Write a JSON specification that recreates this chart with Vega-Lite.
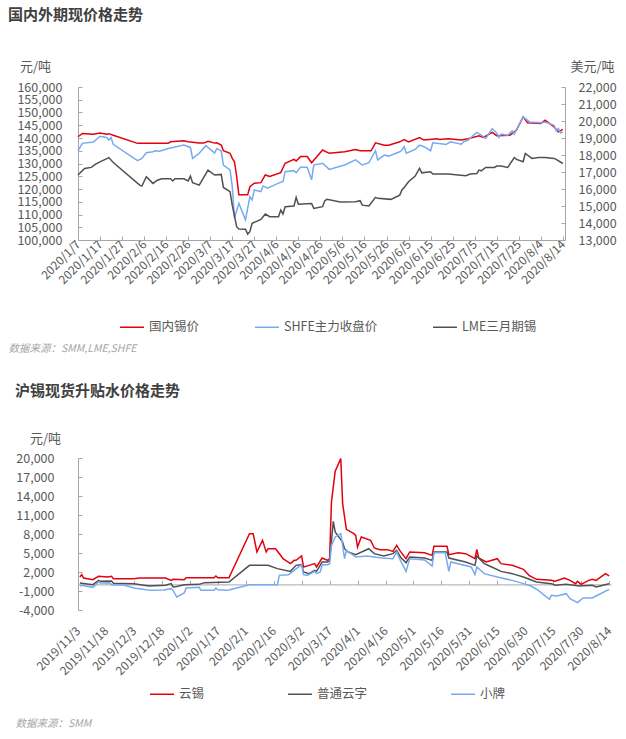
{
"$schema":"https://vega.github.io/schema/vega-lite/v6.json",
"padding":{"left":8,"top":8,"right":0,"bottom":0},
"background":"white",
"config":{
 "view":{"stroke":null},
 "font":"Noto Sans CJK SC",
 "axis":{"labelFont":"Noto Sans CJK SC","labelFontSize":12,"labelColor":"#595959","domainColor":"#a6a6a6","tickColor":"#a6a6a6","grid":false,"labelOverlap":false,"titleFont":"Noto Sans CJK SC","titleFontWeight":"normal","titleColor":"#595959","titleFontSize":13},
 "legend":{"labelFont":"Noto Sans CJK SC","labelFontSize":12.5,"labelColor":"#595959"},
 "title":{"font":"Noto Sans CJK SC","fontSize":15,"fontWeight":"bold","color":"#404040"}
},
"datasets":{
"top":[
{"d":"2020-01-07","s":"国内锡价","v":140500},{"d":"2020-01-09","s":"国内锡价","v":141800},{"d":"2020-01-14","s":"国内锡价","v":141500},{"d":"2020-01-17","s":"国内锡价","v":142000},{"d":"2020-01-20","s":"国内锡价","v":141500},{"d":"2020-01-21","s":"国内锡价","v":141700},{"d":"2020-01-23","s":"国内锡价","v":141100},{"d":"2020-02-03","s":"国内锡价","v":137900},{"d":"2020-02-17","s":"国内锡价","v":137900},{"d":"2020-02-18","s":"国内锡价","v":138500},{"d":"2020-02-24","s":"国内锡价","v":138900},{"d":"2020-02-26","s":"国内锡价","v":138500},{"d":"2020-03-02","s":"国内锡价","v":138000},{"d":"2020-03-04","s":"国内锡价","v":138000},{"d":"2020-03-06","s":"国内锡价","v":138700},{"d":"2020-03-09","s":"国内锡价","v":138000},{"d":"2020-03-10","s":"国内锡价","v":138100},{"d":"2020-03-12","s":"国内锡价","v":137200},{"d":"2020-03-13","s":"国内锡价","v":135000},{"d":"2020-03-16","s":"国内锡价","v":134000},{"d":"2020-03-17","s":"国内锡价","v":132000},{"d":"2020-03-18","s":"国内锡价","v":130700},{"d":"2020-03-19","s":"国内锡价","v":124900},{"d":"2020-03-20","s":"国内锡价","v":117700},{"d":"2020-03-24","s":"国内锡价","v":117700},{"d":"2020-03-25","s":"国内锡价","v":120900},{"d":"2020-03-27","s":"国内锡价","v":122300},{"d":"2020-03-30","s":"国内锡价","v":122500},{"d":"2020-04-01","s":"国内锡价","v":125500},{"d":"2020-04-03","s":"国内锡价","v":124900},{"d":"2020-04-08","s":"国内锡价","v":126400},{"d":"2020-04-10","s":"国内锡价","v":130100},{"d":"2020-04-14","s":"国内锡价","v":131600},{"d":"2020-04-15","s":"国内锡价","v":131000},{"d":"2020-04-17","s":"国内锡价","v":132700},{"d":"2020-04-20","s":"国内锡价","v":132700},{"d":"2020-04-22","s":"国内锡价","v":130300},{"d":"2020-04-27","s":"国内锡价","v":135300},{"d":"2020-04-30","s":"国内锡价","v":134000},{"d":"2020-05-07","s":"国内锡价","v":134600},{"d":"2020-05-12","s":"国内锡价","v":135500},{"d":"2020-05-14","s":"国内锡价","v":135000},{"d":"2020-05-19","s":"国内锡价","v":135000},{"d":"2020-05-21","s":"国内锡价","v":138100},{"d":"2020-05-25","s":"国内锡价","v":137200},{"d":"2020-05-27","s":"国内锡价","v":137200},{"d":"2020-06-01","s":"国内锡价","v":138500},{"d":"2020-06-03","s":"国内锡价","v":139400},{"d":"2020-06-05","s":"国内锡价","v":138500},{"d":"2020-06-10","s":"国内锡价","v":140200},{"d":"2020-06-12","s":"国内锡价","v":139200},{"d":"2020-06-18","s":"国内锡价","v":139700},{"d":"2020-06-19","s":"国内锡价","v":139400},{"d":"2020-06-23","s":"国内锡价","v":139700},{"d":"2020-06-29","s":"国内锡价","v":139200},{"d":"2020-07-02","s":"国内锡价","v":139700},{"d":"2020-07-07","s":"国内锡价","v":140900},{"d":"2020-07-09","s":"国内锡价","v":140200},{"d":"2020-07-13","s":"国内锡价","v":142200},{"d":"2020-07-15","s":"国内锡价","v":140900},{"d":"2020-07-21","s":"国内锡价","v":141100},{"d":"2020-07-24","s":"国内锡价","v":143100},{"d":"2020-07-27","s":"国内锡价","v":148300},{"d":"2020-07-29","s":"国内锡价","v":146000},{"d":"2020-08-04","s":"国内锡价","v":145700},{"d":"2020-08-06","s":"国内锡价","v":147000},{"d":"2020-08-10","s":"国内锡价","v":144400},{"d":"2020-08-12","s":"国内锡价","v":142400},{"d":"2020-08-14","s":"国内锡价","v":143400},
{"d":"2020-01-07","s":"SHFE主力收盘价","v":135000},{"d":"2020-01-09","s":"SHFE主力收盘价","v":137900},{"d":"2020-01-14","s":"SHFE主力收盘价","v":138400},{"d":"2020-01-17","s":"SHFE主力收盘价","v":140700},{"d":"2020-01-20","s":"SHFE主力收盘价","v":140200},{"d":"2020-01-21","s":"SHFE主力收盘价","v":139200},{"d":"2020-01-22","s":"SHFE主力收盘价","v":140200},{"d":"2020-01-23","s":"SHFE主力收盘价","v":137500},{"d":"2020-02-03","s":"SHFE主力收盘价","v":131100},{"d":"2020-02-05","s":"SHFE主力收盘价","v":132000},{"d":"2020-02-07","s":"SHFE主力收盘价","v":134200},{"d":"2020-02-10","s":"SHFE主力收盘价","v":134600},{"d":"2020-02-11","s":"SHFE主力收盘价","v":135000},{"d":"2020-02-13","s":"SHFE主力收盘价","v":134800},{"d":"2020-02-17","s":"SHFE主力收盘价","v":135900},{"d":"2020-02-24","s":"SHFE主力收盘价","v":137200},{"d":"2020-02-27","s":"SHFE主力收盘价","v":136300},{"d":"2020-02-28","s":"SHFE主力收盘价","v":132000},{"d":"2020-03-02","s":"SHFE主力收盘价","v":134000},{"d":"2020-03-05","s":"SHFE主力收盘价","v":137000},{"d":"2020-03-09","s":"SHFE主力收盘价","v":134100},{"d":"2020-03-10","s":"SHFE主力收盘价","v":135900},{"d":"2020-03-12","s":"SHFE主力收盘价","v":134900},{"d":"2020-03-13","s":"SHFE主力收盘价","v":129400},{"d":"2020-03-16","s":"SHFE主力收盘价","v":127500},{"d":"2020-03-17","s":"SHFE主力收盘价","v":121000},{"d":"2020-03-18","s":"SHFE主力收盘价","v":108600},{"d":"2020-03-20","s":"SHFE主力收盘价","v":114400},{"d":"2020-03-23","s":"SHFE主力收盘价","v":107900},{"d":"2020-03-25","s":"SHFE主力收盘价","v":117000},{"d":"2020-03-26","s":"SHFE主力收盘价","v":115700},{"d":"2020-03-27","s":"SHFE主力收盘价","v":119600},{"d":"2020-03-30","s":"SHFE主力收盘价","v":119000},{"d":"2020-03-31","s":"SHFE主力收盘价","v":121200},{"d":"2020-04-02","s":"SHFE主力收盘价","v":120300},{"d":"2020-04-07","s":"SHFE主力收盘价","v":122300},{"d":"2020-04-09","s":"SHFE主力收盘价","v":122900},{"d":"2020-04-10","s":"SHFE主力收盘价","v":126800},{"d":"2020-04-14","s":"SHFE主力收盘价","v":127200},{"d":"2020-04-15","s":"SHFE主力收盘价","v":126400},{"d":"2020-04-17","s":"SHFE主力收盘价","v":128500},{"d":"2020-04-20","s":"SHFE主力收盘价","v":128500},{"d":"2020-04-22","s":"SHFE主力收盘价","v":123600},{"d":"2020-04-23","s":"SHFE主力收盘价","v":129400},{"d":"2020-04-27","s":"SHFE主力收盘价","v":130100},{"d":"2020-04-30","s":"SHFE主力收盘价","v":127700},{"d":"2020-05-07","s":"SHFE主力收盘价","v":129400},{"d":"2020-05-12","s":"SHFE主力收盘价","v":131400},{"d":"2020-05-15","s":"SHFE主力收盘价","v":129400},{"d":"2020-05-18","s":"SHFE主力收盘价","v":130300},{"d":"2020-05-21","s":"SHFE主力收盘价","v":135000},{"d":"2020-05-22","s":"SHFE主力收盘价","v":131400},{"d":"2020-05-25","s":"SHFE主力收盘价","v":133300},{"d":"2020-05-27","s":"SHFE主力收盘价","v":132900},{"d":"2020-06-01","s":"SHFE主力收盘价","v":134600},{"d":"2020-06-02","s":"SHFE主力收盘价","v":135300},{"d":"2020-06-03","s":"SHFE主力收盘价","v":136600},{"d":"2020-06-04","s":"SHFE主力收盘价","v":134000},{"d":"2020-06-08","s":"SHFE主力收盘价","v":135500},{"d":"2020-06-10","s":"SHFE主力收盘价","v":137200},{"d":"2020-06-12","s":"SHFE主力收盘价","v":136600},{"d":"2020-06-15","s":"SHFE主力收盘价","v":135000},{"d":"2020-06-16","s":"SHFE主力收盘价","v":138100},{"d":"2020-06-18","s":"SHFE主力收盘价","v":137900},{"d":"2020-06-22","s":"SHFE主力收盘价","v":137500},{"d":"2020-06-24","s":"SHFE主力收盘价","v":138500},{"d":"2020-06-29","s":"SHFE主力收盘价","v":137600},{"d":"2020-06-30","s":"SHFE主力收盘价","v":138500},{"d":"2020-07-02","s":"SHFE主力收盘价","v":139200},{"d":"2020-07-06","s":"SHFE主力收盘价","v":142200},{"d":"2020-07-08","s":"SHFE主力收盘价","v":141100},{"d":"2020-07-10","s":"SHFE主力收盘价","v":139800},{"d":"2020-07-13","s":"SHFE主力收盘价","v":143700},{"d":"2020-07-15","s":"SHFE主力收盘价","v":142000},{"d":"2020-07-16","s":"SHFE主力收盘价","v":140200},{"d":"2020-07-17","s":"SHFE主力收盘价","v":141500},{"d":"2020-07-20","s":"SHFE主力收盘价","v":141100},{"d":"2020-07-22","s":"SHFE主力收盘价","v":142800},{"d":"2020-07-23","s":"SHFE主力收盘价","v":141500},{"d":"2020-07-24","s":"SHFE主力收盘价","v":143400},{"d":"2020-07-27","s":"SHFE主力收盘价","v":148300},{"d":"2020-07-30","s":"SHFE主力收盘价","v":146300},{"d":"2020-08-04","s":"SHFE主力收盘价","v":146000},{"d":"2020-08-06","s":"SHFE主力收盘价","v":146300},{"d":"2020-08-10","s":"SHFE主力收盘价","v":145000},{"d":"2020-08-11","s":"SHFE主力收盘价","v":142800},{"d":"2020-08-12","s":"SHFE主力收盘价","v":143700},{"d":"2020-08-13","s":"SHFE主力收盘价","v":142000},{"d":"2020-08-14","s":"SHFE主力收盘价","v":142400},
{"d":"2020-01-07","s":"LME三月期锡","v":16820},{"d":"2020-01-10","s":"LME三月期锡","v":17210},{"d":"2020-01-13","s":"LME三月期锡","v":17270},{"d":"2020-01-15","s":"LME三月期锡","v":17460},{"d":"2020-01-17","s":"LME三月期锡","v":17600},{"d":"2020-01-21","s":"LME三月期锡","v":17850},{"d":"2020-01-23","s":"LME三月期锡","v":17560},{"d":"2020-02-04","s":"LME三月期锡","v":16230},{"d":"2020-02-05","s":"LME三月期锡","v":16170},{"d":"2020-02-07","s":"LME三月期锡","v":16720},{"d":"2020-02-10","s":"LME三月期锡","v":16330},{"d":"2020-02-12","s":"LME三月期锡","v":16520},{"d":"2020-02-14","s":"LME三月期锡","v":16600},{"d":"2020-02-18","s":"LME三月期锡","v":16600},{"d":"2020-02-19","s":"LME三月期锡","v":16470},{"d":"2020-02-20","s":"LME三月期锡","v":16600},{"d":"2020-02-24","s":"LME三月期锡","v":16600},{"d":"2020-02-26","s":"LME三月期锡","v":16470},{"d":"2020-02-27","s":"LME三月期锡","v":16760},{"d":"2020-02-28","s":"LME三月期锡","v":16370},{"d":"2020-03-02","s":"LME三月期锡","v":16230},{"d":"2020-03-06","s":"LME三月期锡","v":17110},{"d":"2020-03-09","s":"LME三月期锡","v":16820},{"d":"2020-03-12","s":"LME三月期锡","v":16860},{"d":"2020-03-13","s":"LME三月期锡","v":16090},{"d":"2020-03-16","s":"LME三月期锡","v":15840},{"d":"2020-03-17","s":"LME三月期锡","v":15050},{"d":"2020-03-19","s":"LME三月期锡","v":13780},{"d":"2020-03-20","s":"LME三月期锡","v":13650},{"d":"2020-03-23","s":"LME三月期锡","v":13630},{"d":"2020-03-24","s":"LME三月期锡","v":13350},{"d":"2020-03-25","s":"LME三月期锡","v":13490},{"d":"2020-03-26","s":"LME三月期锡","v":13980},{"d":"2020-03-30","s":"LME三月期锡","v":14210},{"d":"2020-04-01","s":"LME三月期锡","v":14530},{"d":"2020-04-03","s":"LME三月期锡","v":14370},{"d":"2020-04-07","s":"LME三月期锡","v":14370},{"d":"2020-04-08","s":"LME三月期锡","v":14760},{"d":"2020-04-09","s":"LME三月期锡","v":14530},{"d":"2020-04-10","s":"LME三月期锡","v":14960},{"d":"2020-04-14","s":"LME三月期锡","v":15000},{"d":"2020-04-15","s":"LME三月期锡","v":15510},{"d":"2020-04-16","s":"LME三月期锡","v":15110},{"d":"2020-04-22","s":"LME三月期锡","v":15150},{"d":"2020-04-23","s":"LME三月期锡","v":14860},{"d":"2020-04-27","s":"LME三月期锡","v":14960},{"d":"2020-04-28","s":"LME三月期锡","v":15310},{"d":"2020-04-29","s":"LME三月期锡","v":15390},{"d":"2020-05-05","s":"LME三月期锡","v":15230},{"d":"2020-05-12","s":"LME三月期锡","v":15250},{"d":"2020-05-14","s":"LME三月期锡","v":15310},{"d":"2020-05-15","s":"LME三月期锡","v":15050},{"d":"2020-05-18","s":"LME三月期锡","v":15000},{"d":"2020-05-21","s":"LME三月期锡","v":15510},{"d":"2020-05-22","s":"LME三月期锡","v":15450},{"d":"2020-05-28","s":"LME三月期锡","v":15390},{"d":"2020-06-01","s":"LME三月期锡","v":15640},{"d":"2020-06-02","s":"LME三月期锡","v":15940},{"d":"2020-06-03","s":"LME三月期锡","v":16090},{"d":"2020-06-05","s":"LME三月期锡","v":16430},{"d":"2020-06-08","s":"LME三月期锡","v":16760},{"d":"2020-06-10","s":"LME三月期锡","v":17210},{"d":"2020-06-11","s":"LME三月期锡","v":16950},{"d":"2020-06-15","s":"LME三月期锡","v":17010},{"d":"2020-06-16","s":"LME三月期锡","v":16880},{"d":"2020-06-23","s":"LME三月期锡","v":16880},{"d":"2020-07-01","s":"LME三月期锡","v":16780},{"d":"2020-07-03","s":"LME三月期锡","v":16880},{"d":"2020-07-06","s":"LME三月期锡","v":16910},{"d":"2020-07-07","s":"LME三月期锡","v":17110},{"d":"2020-07-08","s":"LME三月期锡","v":17070},{"d":"2020-07-10","s":"LME三月期锡","v":17270},{"d":"2020-07-14","s":"LME三月期锡","v":17270},{"d":"2020-07-15","s":"LME三月期锡","v":17350},{"d":"2020-07-17","s":"LME三月期锡","v":17350},{"d":"2020-07-20","s":"LME三月期锡","v":17270},{"d":"2020-07-23","s":"LME三月期锡","v":17850},{"d":"2020-07-24","s":"LME三月期锡","v":17740},{"d":"2020-07-27","s":"LME三月期锡","v":17600},{"d":"2020-07-28","s":"LME三月期锡","v":18090},{"d":"2020-07-31","s":"LME三月期锡","v":17800},{"d":"2020-08-03","s":"LME三月期锡","v":17850},{"d":"2020-08-06","s":"LME三月期锡","v":17850},{"d":"2020-08-10","s":"LME三月期锡","v":17800},{"d":"2020-08-11","s":"LME三月期锡","v":17740},{"d":"2020-08-14","s":"LME三月期锡","v":17500}
],
"bot":[
{"d":"2019-11-04","s":"云锡","v":1200},{"d":"2019-11-05","s":"云锡","v":1580},{"d":"2019-11-06","s":"云锡","v":1050},{"d":"2019-11-11","s":"云锡","v":790},{"d":"2019-11-14","s":"云锡","v":1320},{"d":"2019-11-19","s":"云锡","v":1220},{"d":"2019-11-21","s":"云锡","v":1320},{"d":"2019-11-22","s":"云锡","v":950},{"d":"2019-12-03","s":"云锡","v":950},{"d":"2019-12-06","s":"云锡","v":1050},{"d":"2019-12-20","s":"云锡","v":1050},{"d":"2019-12-23","s":"云锡","v":680},{"d":"2019-12-24","s":"云锡","v":840},{"d":"2019-12-30","s":"云锡","v":790},{"d":"2019-12-31","s":"云锡","v":1100},{"d":"2020-01-08","s":"云锡","v":1100},{"d":"2020-01-15","s":"云锡","v":1100},{"d":"2020-01-16","s":"云锡","v":1370},{"d":"2020-01-17","s":"云锡","v":1100},{"d":"2020-01-23","s":"云锡","v":1100},{"d":"2020-02-03","s":"云锡","v":8050},{"d":"2020-02-05","s":"云锡","v":8050},{"d":"2020-02-07","s":"云锡","v":5160},{"d":"2020-02-10","s":"云锡","v":7000},{"d":"2020-02-12","s":"云锡","v":5160},{"d":"2020-02-13","s":"云锡","v":5680},{"d":"2020-02-17","s":"云锡","v":5680},{"d":"2020-02-20","s":"云锡","v":4530},{"d":"2020-02-21","s":"云锡","v":4100},{"d":"2020-02-25","s":"云锡","v":3320},{"d":"2020-02-27","s":"云锡","v":3840},{"d":"2020-02-28","s":"云锡","v":3840},{"d":"2020-03-02","s":"云锡","v":4530},{"d":"2020-03-03","s":"云锡","v":2790},{"d":"2020-03-06","s":"云锡","v":3050},{"d":"2020-03-09","s":"云锡","v":3320},{"d":"2020-03-10","s":"云锡","v":2790},{"d":"2020-03-13","s":"云锡","v":4210},{"d":"2020-03-16","s":"云锡","v":3840},{"d":"2020-03-17","s":"云锡","v":4100},{"d":"2020-03-18","s":"云锡","v":13050},{"d":"2020-03-20","s":"云锡","v":17900},{"d":"2020-03-23","s":"云锡","v":19900},{"d":"2020-03-24","s":"云锡","v":12790},{"d":"2020-03-26","s":"云锡","v":8740},{"d":"2020-03-30","s":"云锡","v":8050},{"d":"2020-03-31","s":"云锡","v":7790},{"d":"2020-04-01","s":"云锡","v":5950},{"d":"2020-04-03","s":"云锡","v":7530},{"d":"2020-04-08","s":"云锡","v":7000},{"d":"2020-04-10","s":"云锡","v":5790},{"d":"2020-04-13","s":"云锡","v":5530},{"d":"2020-04-17","s":"云锡","v":5530},{"d":"2020-04-20","s":"云锡","v":5260},{"d":"2020-04-22","s":"云锡","v":6210},{"d":"2020-04-24","s":"云锡","v":5260},{"d":"2020-04-27","s":"云锡","v":4100},{"d":"2020-04-29","s":"云锡","v":5160},{"d":"2020-05-07","s":"云锡","v":5050},{"d":"2020-05-11","s":"云锡","v":4630},{"d":"2020-05-12","s":"云锡","v":6050},{"d":"2020-05-19","s":"云锡","v":6050},{"d":"2020-05-20","s":"云锡","v":4740},{"d":"2020-05-25","s":"云锡","v":5050},{"d":"2020-05-29","s":"云锡","v":4900},{"d":"2020-06-03","s":"云锡","v":4100},{"d":"2020-06-04","s":"云锡","v":5580},{"d":"2020-06-05","s":"云锡","v":4210},{"d":"2020-06-09","s":"云锡","v":3580},{"d":"2020-06-15","s":"云锡","v":4100},{"d":"2020-06-17","s":"云锡","v":3320},{"d":"2020-06-23","s":"云锡","v":3050},{"d":"2020-06-29","s":"云锡","v":2420},{"d":"2020-07-02","s":"云锡","v":1470},{"d":"2020-07-06","s":"云锡","v":840},{"d":"2020-07-14","s":"云锡","v":680},{"d":"2020-07-16","s":"云锡","v":530},{"d":"2020-07-21","s":"云锡","v":1050},{"d":"2020-07-24","s":"云锡","v":680},{"d":"2020-07-27","s":"云锡","v":160},{"d":"2020-07-28","s":"云锡","v":530},{"d":"2020-07-30","s":"云锡","v":50},{"d":"2020-08-03","s":"云锡","v":680},{"d":"2020-08-05","s":"云锡","v":840},{"d":"2020-08-07","s":"云锡","v":680},{"d":"2020-08-12","s":"云锡","v":1740},{"d":"2020-08-14","s":"云锡","v":1370},
{"d":"2019-11-04","s":"普通云字","v":260},{"d":"2019-11-07","s":"普通云字","v":160},{"d":"2019-11-11","s":"普通云字","v":0},{"d":"2019-11-14","s":"普通云字","v":680},{"d":"2019-11-15","s":"普通云字","v":530},{"d":"2019-11-21","s":"普通云字","v":580},{"d":"2019-11-22","s":"普通云字","v":210},{"d":"2019-12-03","s":"普通云字","v":160},{"d":"2019-12-11","s":"普通云字","v":-210},{"d":"2019-12-20","s":"普通云字","v":-100},{"d":"2019-12-23","s":"普通云字","v":160},{"d":"2019-12-24","s":"普通云字","v":-370},{"d":"2019-12-26","s":"普通云字","v":-300},{"d":"2019-12-30","s":"普通云字","v":0},{"d":"2020-01-07","s":"普通云字","v":50},{"d":"2020-01-10","s":"普通云字","v":320},{"d":"2020-01-23","s":"普通云字","v":420},{"d":"2020-02-03","s":"普通云字","v":3050},{"d":"2020-02-13","s":"普通云字","v":3050},{"d":"2020-02-18","s":"普通云字","v":2530},{"d":"2020-02-25","s":"普通云字","v":2100},{"d":"2020-02-28","s":"普通云字","v":3050},{"d":"2020-03-02","s":"普通云字","v":3160},{"d":"2020-03-03","s":"普通云字","v":2000},{"d":"2020-03-06","s":"普通云字","v":1740},{"d":"2020-03-09","s":"普通云字","v":2260},{"d":"2020-03-10","s":"普通云字","v":2100},{"d":"2020-03-13","s":"普通云字","v":3580},{"d":"2020-03-16","s":"普通云字","v":3580},{"d":"2020-03-17","s":"普通云字","v":3840},{"d":"2020-03-19","s":"普通云字","v":10000},{"d":"2020-03-20","s":"普通云字","v":8320},{"d":"2020-03-24","s":"普通云字","v":6740},{"d":"2020-03-25","s":"普通云字","v":5680},{"d":"2020-03-27","s":"普通云字","v":5160},{"d":"2020-03-31","s":"普通云字","v":4740},{"d":"2020-04-07","s":"普通云字","v":5680},{"d":"2020-04-10","s":"普通云字","v":4900},{"d":"2020-04-15","s":"普通云字","v":4530},{"d":"2020-04-20","s":"普通云字","v":4900},{"d":"2020-04-22","s":"普通云字","v":5420},{"d":"2020-04-24","s":"普通云字","v":4370},{"d":"2020-04-27","s":"普通云字","v":3470},{"d":"2020-04-29","s":"普通云字","v":4370},{"d":"2020-05-07","s":"普通云字","v":4210},{"d":"2020-05-11","s":"普通云字","v":3840},{"d":"2020-05-12","s":"普通云字","v":5160},{"d":"2020-05-19","s":"普通云字","v":5160},{"d":"2020-05-20","s":"普通云字","v":4210},{"d":"2020-05-29","s":"普通云字","v":3580},{"d":"2020-06-03","s":"普通云字","v":3050},{"d":"2020-06-04","s":"普通云字","v":4530},{"d":"2020-06-08","s":"普通云字","v":3320},{"d":"2020-06-12","s":"普通云字","v":2790},{"d":"2020-06-17","s":"普通云字","v":2100},{"d":"2020-06-23","s":"普通云字","v":1740},{"d":"2020-06-29","s":"普通云字","v":1210},{"d":"2020-07-06","s":"普通云字","v":420},{"d":"2020-07-14","s":"普通云字","v":160},{"d":"2020-07-16","s":"普通云字","v":-100},{"d":"2020-07-22","s":"普通云字","v":50},{"d":"2020-07-29","s":"普通云字","v":-210},{"d":"2020-08-05","s":"普通云字","v":-100},{"d":"2020-08-07","s":"普通云字","v":-370},{"d":"2020-08-14","s":"普通云字","v":160},
{"d":"2019-11-04","s":"小牌","v":-210},{"d":"2019-11-05","s":"小牌","v":-100},{"d":"2019-11-11","s":"小牌","v":-420},{"d":"2019-11-14","s":"小牌","v":420},{"d":"2019-11-15","s":"小牌","v":260},{"d":"2019-11-20","s":"小牌","v":320},{"d":"2019-11-21","s":"小牌","v":0},{"d":"2019-11-28","s":"小牌","v":-100},{"d":"2019-12-03","s":"小牌","v":-530},{"d":"2019-12-06","s":"小牌","v":-630},{"d":"2019-12-12","s":"小牌","v":-900},{"d":"2019-12-19","s":"小牌","v":-840},{"d":"2019-12-23","s":"小牌","v":-630},{"d":"2019-12-24","s":"小牌","v":-900},{"d":"2019-12-26","s":"小牌","v":-1950},{"d":"2019-12-30","s":"小牌","v":-1320},{"d":"2019-12-31","s":"小牌","v":-530},{"d":"2020-01-07","s":"小牌","v":-420},{"d":"2020-01-08","s":"小牌","v":-900},{"d":"2020-01-15","s":"小牌","v":-900},{"d":"2020-01-16","s":"小牌","v":-530},{"d":"2020-01-17","s":"小牌","v":-790},{"d":"2020-01-21","s":"小牌","v":-900},{"d":"2020-01-23","s":"小牌","v":-840},{"d":"2020-02-03","s":"小牌","v":0},{"d":"2020-02-18","s":"小牌","v":0},{"d":"2020-02-19","s":"小牌","v":1470},{"d":"2020-02-24","s":"小牌","v":1580},{"d":"2020-02-27","s":"小牌","v":2260},{"d":"2020-03-02","s":"小牌","v":3160},{"d":"2020-03-03","s":"小牌","v":1580},{"d":"2020-03-05","s":"小牌","v":1470},{"d":"2020-03-09","s":"小牌","v":2100},{"d":"2020-03-10","s":"小牌","v":1740},{"d":"2020-03-12","s":"小牌","v":2000},{"d":"2020-03-13","s":"小牌","v":3160},{"d":"2020-03-16","s":"小牌","v":3160},{"d":"2020-03-17","s":"小牌","v":3300},{"d":"2020-03-18","s":"小牌","v":6200},{"d":"2020-03-20","s":"小牌","v":7530},{"d":"2020-03-23","s":"小牌","v":8050},{"d":"2020-03-24","s":"小牌","v":6200},{"d":"2020-03-25","s":"小牌","v":4100},{"d":"2020-03-26","s":"小牌","v":5420},{"d":"2020-03-31","s":"小牌","v":4370},{"d":"2020-04-06","s":"小牌","v":4530},{"d":"2020-04-10","s":"小牌","v":4370},{"d":"2020-04-14","s":"小牌","v":4210},{"d":"2020-04-20","s":"小牌","v":4100},{"d":"2020-04-22","s":"小牌","v":5160},{"d":"2020-04-24","s":"小牌","v":3840},{"d":"2020-04-27","s":"小牌","v":2100},{"d":"2020-04-29","s":"小牌","v":4100},{"d":"2020-05-07","s":"小牌","v":3900},{"d":"2020-05-11","s":"小牌","v":2950},{"d":"2020-05-12","s":"小牌","v":5050},{"d":"2020-05-18","s":"小牌","v":5050},{"d":"2020-05-20","s":"小牌","v":2100},{"d":"2020-05-21","s":"小牌","v":3580},{"d":"2020-06-01","s":"小牌","v":2790},{"d":"2020-06-03","s":"小牌","v":1580},{"d":"2020-06-04","s":"小牌","v":2790},{"d":"2020-06-08","s":"小牌","v":1740},{"d":"2020-06-15","s":"小牌","v":1210},{"d":"2020-06-23","s":"小牌","v":680},{"d":"2020-06-29","s":"小牌","v":160},{"d":"2020-07-03","s":"小牌","v":-210},{"d":"2020-07-07","s":"小牌","v":-900},{"d":"2020-07-13","s":"小牌","v":-2320},{"d":"2020-07-14","s":"小牌","v":-1680},{"d":"2020-07-17","s":"小牌","v":-1790},{"d":"2020-07-22","s":"小牌","v":-1420},{"d":"2020-07-24","s":"小牌","v":-2210},{"d":"2020-07-28","s":"小牌","v":-2840},{"d":"2020-07-31","s":"小牌","v":-2100},{"d":"2020-08-05","s":"小牌","v":-2100},{"d":"2020-08-07","s":"小牌","v":-1790},{"d":"2020-08-14","s":"小牌","v":-740}
]
},
"columns":1,
"align":"none",
"spacing":30,
"resolve":{"scale":{"color":"independent","x":"independent","y":"independent"},"legend":{"color":"independent"}},
"concat":[
{
 "width":487,"height":153,
 "title":{"text":"国内外期现价格走势","anchor":"start","frame":"group","dx":-70,"offset":37},
 "data":{"name":"top"},
 "encoding":{
  "x":{"field":"d","type":"temporal",
   "scale":{"type":"utc","domain":[{"year":2020,"month":1,"date":7,"utc":true},{"year":2020,"month":8,"date":15,"utc":true}]},
   "axis":{"values":[
    {"year":2020,"month":1,"date":7,"utc":true},{"year":2020,"month":1,"date":17,"utc":true},{"year":2020,"month":1,"date":27,"utc":true},{"year":2020,"month":2,"date":6,"utc":true},{"year":2020,"month":2,"date":16,"utc":true},{"year":2020,"month":2,"date":26,"utc":true},{"year":2020,"month":3,"date":7,"utc":true},{"year":2020,"month":3,"date":17,"utc":true},{"year":2020,"month":3,"date":27,"utc":true},{"year":2020,"month":4,"date":6,"utc":true},{"year":2020,"month":4,"date":16,"utc":true},{"year":2020,"month":4,"date":26,"utc":true},{"year":2020,"month":5,"date":6,"utc":true},{"year":2020,"month":5,"date":16,"utc":true},{"year":2020,"month":5,"date":26,"utc":true},{"year":2020,"month":6,"date":5,"utc":true},{"year":2020,"month":6,"date":15,"utc":true},{"year":2020,"month":6,"date":25,"utc":true},{"year":2020,"month":7,"date":5,"utc":true},{"year":2020,"month":7,"date":15,"utc":true},{"year":2020,"month":7,"date":25,"utc":true},{"year":2020,"month":8,"date":4,"utc":true},{"year":2020,"month":8,"date":14,"utc":true}],
    "labelExpr":"utcFormat(datum.value, '%Y/%-m/%-d')","labelAngle":-45,"labelAlign":"right","labelBaseline":"middle","labelOverlap":false,"labelFlush":false,
    "tickSize":-4,"labelPadding":6,
    "title":"数据来源：SMM,LME,SHFE","titleX":-70,"titleY":108,"titleAlign":"left","titleAnchor":"start","titleBaseline":"middle","titleFontStyle":"italic","titleFontSize":10.5,"titleColor":"#a6a6a6"}}
 },
 "layer":[
  {
   "transform":[{"filter":"datum.s !== 'LME三月期锡'"}],
   "mark":{"type":"line","strokeWidth":1.5},
   "encoding":{
    "y":{"field":"v","type":"quantitative","scale":{"domain":[100000,160000],"nice":false,"zero":false},
     "axis":{"values":[100000,105000,110000,115000,120000,125000,130000,135000,140000,145000,150000,155000,160000],"labelExpr":"format(datum.value, ',')","labelFontSize":12.5,"tickSize":-4,"labelPadding":20,
      "title":"元/吨","titleAngle":0,"titleX":-43,"titleY":-21,"titleAlign":"center","titleBaseline":"middle"}},
    "color":{"field":"s","type":"nominal","scale":{"domain":["国内锡价","SHFE主力收盘价","LME三月期锡"],"range":["#e3000f","#78aaf0","#505050"]},
     "legend":{"orient":"none","legendX":41,"legendY":227,"direction":"horizontal","title":null,"symbolType":"stroke","symbolSize":576,"symbolStrokeWidth":1.5,"columnPadding":52}}
   }
  },
  {
   "transform":[{"filter":"datum.s === 'LME三月期锡'"}],
   "mark":{"type":"line","strokeWidth":1.5},
   "encoding":{
    "y":{"field":"v","type":"quantitative","scale":{"domain":[13000,22000],"nice":false,"zero":false},
     "axis":{"orient":"right","values":[13000,14000,15000,16000,17000,18000,19000,20000,21000,22000],"labelExpr":"format(datum.value, ',')","labelFontSize":12.5,"tickSize":-4,"labelPadding":17,
      "title":"美元/吨","titleAngle":0,"titleX":27,"titleY":-21,"titleAlign":"center","titleBaseline":"middle"}},
    "color":{"field":"s","type":"nominal"}
   }
  }
 ],
 "resolve":{"scale":{"y":"independent"}}
},
{
 "width":533,"height":152,
 "title":{"text":"沪锡现货升贴水价格走势","anchor":"start","frame":"group","dx":-63,"offset":33},
 "data":{"name":"bot"},
 "mark":{"type":"line","strokeWidth":1.5},
 "encoding":{
  "x":{"field":"d","type":"temporal",
   "scale":{"type":"utc","domain":[{"year":2019,"month":11,"date":3,"utc":true},{"year":2020,"month":8,"date":15,"utc":true}]},
   "axis":{"values":[
    {"year":2019,"month":11,"date":3,"utc":true},{"year":2019,"month":11,"date":18,"utc":true},{"year":2019,"month":12,"date":3,"utc":true},{"year":2019,"month":12,"date":18,"utc":true},{"year":2020,"month":1,"date":2,"utc":true},{"year":2020,"month":1,"date":17,"utc":true},{"year":2020,"month":2,"date":1,"utc":true},{"year":2020,"month":2,"date":16,"utc":true},{"year":2020,"month":3,"date":2,"utc":true},{"year":2020,"month":3,"date":17,"utc":true},{"year":2020,"month":4,"date":1,"utc":true},{"year":2020,"month":4,"date":16,"utc":true},{"year":2020,"month":5,"date":1,"utc":true},{"year":2020,"month":5,"date":16,"utc":true},{"year":2020,"month":5,"date":31,"utc":true},{"year":2020,"month":6,"date":15,"utc":true},{"year":2020,"month":6,"date":30,"utc":true},{"year":2020,"month":7,"date":15,"utc":true},{"year":2020,"month":7,"date":30,"utc":true},{"year":2020,"month":8,"date":14,"utc":true}],
    "labelExpr":"utcFormat(datum.value, '%Y/%-m/%-d')","labelAngle":-45,"labelAlign":"right","labelBaseline":"middle","labelOverlap":false,"labelFlush":false,
    "offset":-25.6,"tickSize":-4,"labelPadding":48,
    "title":"数据来源：SMM","titleX":-63,"titleY":139,"titleAlign":"left","titleAnchor":"start","titleBaseline":"middle","titleFontStyle":"italic","titleFontSize":10.5,"titleColor":"#a6a6a6"}},
  "y":{"field":"v","type":"quantitative","scale":{"domain":[-4000,20000],"nice":false,"zero":false},
   "axis":{"values":[-4000,-1000,2000,5000,8000,11000,14000,17000,20000],"labelExpr":"(datum.value < 0 ? '-' : '') + format(abs(datum.value), ',')","labelFontSize":12.5,"tickSize":-4,"labelPadding":28,
    "title":"元/吨","titleAngle":0,"titleX":-33,"titleY":-20,"titleAlign":"center","titleBaseline":"middle"}},
  "color":{"field":"s","type":"nominal","scale":{"domain":["云锡","普通云字","小牌"],"range":["#e3000f","#505050","#78aaf0"]},
   "legend":{"orient":"none","legendX":71,"legendY":223,"direction":"horizontal","title":null,"symbolType":"stroke","symbolSize":576,"symbolStrokeWidth":1.5,"columnPadding":80}}
 }
}
]
}
